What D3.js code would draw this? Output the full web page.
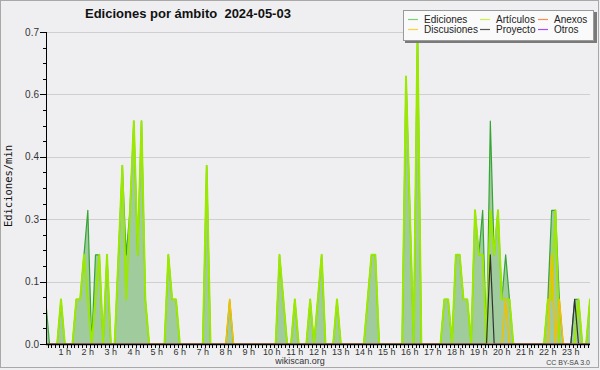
<!DOCTYPE html>
<html>
<head>
<meta charset="utf-8">
<script src="https://cdn.jsdelivr.net/npm/d3@7"></script>
<style>
  body { margin: 0; background: #efeff1; }
  svg { display: block; }
</style>
</head>
<body>
<svg id="chart"></svg>
<script>
// edits per minute, one value per 10 minute slot (6 slots per hour, 00:00 -> 23:50)
const ediciones = [
  0.1, 0, 0, 0, 0.1, 0,        // 0 h
  0, 0, 0.1, 0.1, 0.2, 0.3,    // 1 h
  0, 0.2, 0.2, 0, 0.2, 0,      // 2 h
  0, 0.2, 0.4, 0.2, 0.3, 0.5,  // 3 h
  0.2, 0.5, 0.1, 0, 0, 0,      // 4 h
  0, 0, 0.2, 0.1, 0.1, 0,      // 5 h
  0, 0, 0, 0, 0, 0,            // 6 h
  0.4, 0, 0, 0, 0, 0,          // 7 h
  0.1, 0, 0, 0, 0, 0,          // 8 h
  0, 0, 0, 0, 0, 0,            // 9 h
  0, 0.2, 0.1, 0, 0, 0.1,      // 10 h
  0, 0, 0, 0.1, 0, 0.1,        // 11 h
  0.2, 0, 0, 0, 0.1, 0,        // 12 h
  0, 0, 0, 0, 0, 0,            // 13 h
  0.1, 0.2, 0.2, 0, 0, 0,      // 14 h
  0, 0, 0, 0, 0.6, 0.3,        // 15 h
  0, 0.7, 0, 0, 0, 0,          // 16 h
  0, 0, 0.1, 0.1, 0, 0.2,      // 17 h
  0.2, 0.1, 0.1, 0, 0.3, 0.2,  // 18 h
  0.3, 0, 0.5, 0.2, 0.3, 0.1,  // 19 h
  0.2, 0.1, 0, 0, 0, 0,        // 20 h
  0, 0, 0, 0, 0, 0.1,          // 21 h
  0.3, 0.3, 0.1, 0, 0, 0,      // 22 h
  0.1, 0.1, 0, 0, 0.1, 0       // 23 h
];
const articulos = [
  0, 0, 0, 0, 0.1, 0,
  0, 0, 0.1, 0.1, 0.2, 0.1,
  0, 0.1, 0.2, 0, 0.2, 0,
  0, 0.2, 0.4, 0.1, 0.3, 0.5,
  0.2, 0.5, 0.1, 0, 0, 0,
  0, 0, 0.2, 0.1, 0.1, 0,
  0, 0, 0, 0, 0, 0,
  0.4, 0, 0, 0, 0, 0,
  0, 0, 0, 0, 0, 0,
  0, 0, 0, 0, 0, 0,
  0, 0.2, 0.1, 0, 0, 0.1,
  0, 0, 0, 0.1, 0, 0.1,
  0.2, 0, 0, 0, 0.1, 0,
  0, 0, 0, 0, 0, 0,
  0.1, 0.2, 0.2, 0, 0, 0,
  0, 0, 0, 0, 0.6, 0.3,
  0, 0.7, 0, 0, 0, 0,
  0, 0, 0.1, 0.1, 0, 0.2,
  0.2, 0.1, 0.1, 0, 0.3, 0.2,
  0.2, 0, 0.3, 0.2, 0.3, 0.1,
  0.1, 0.1, 0, 0, 0, 0,
  0, 0, 0, 0, 0, 0.1,
  0.1, 0.3, 0, 0, 0, 0,
  0, 0.1, 0, 0, 0.1, 0
];
const discusiones = [
  0,0,0,0,0,0, 0,0,0,0,0,0, 0,0,0,0,0,0, 0,0,0,0,0,0,
  0,0,0,0,0,0, 0,0,0,0,0,0, 0,0,0,0,0,0, 0,0,0,0,0,0,
  0.1,0,0,0,0,0, 0,0,0,0,0,0, 0,0,0,0,0,0, 0,0,0,0,0,0,
  0,0,0,0,0,0, 0,0,0,0,0,0, 0,0,0,0,0,0, 0,0,0,0,0,0,
  0,0,0,0,0,0, 0,0,0,0,0,0, 0,0,0,0,0,0, 0,0,0,0,0,0,
  0.1,0,0,0,0,0, 0,0,0,0,0,0, 0.2,0,0.1,0,0,0, 0,0,0,0,0,0
];
const proyecto = [
  0,0,0,0,0,0, 0,0,0,0,0,0, 0,0,0,0,0,0, 0,0,0,0,0,0,
  0,0,0,0,0,0, 0,0,0,0,0,0, 0,0,0,0,0,0, 0,0,0,0,0,0,
  0,0,0,0,0,0, 0,0,0,0,0,0, 0,0,0,0,0,0, 0,0,0,0,0,0,
  0,0,0,0,0,0, 0,0,0,0,0,0, 0,0,0,0,0,0, 0,0,0,0,0,0,
  0,0,0,0,0,0, 0,0,0,0,0,0, 0,0,0,0,0,0, 0,0,0.2,0,0,0,
  0,0,0,0,0,0, 0,0,0,0,0,0, 0,0,0,0,0,0, 0.1,0,0,0,0,0
];
const anexos = d3.range(144).map(() => 0);
const otros = d3.range(144).map(() => 0);

const title = "Ediciones por ámbito  2024-05-03";
const yTicks = [0, 0.14, 0.28, 0.42, 0.56, 0.7];
const hourLabels = d3.range(1, 24);

const series = [
  { name: "Ediciones", values: ediciones, color: "#35a534", lw: 1.2, legend: "#7ccf7c" },
  { name: "Artículos", values: articulos, color: "#9be800", lw: 2, legend: "#c8f04a" },
  { name: "Anexos", values: anexos, color: "#ff7a33", lw: 1.4, legend: "#ff8a50" },
  { name: "Discusiones", values: discusiones, color: "#f2c000", lw: 1.6, legend: "#ffd040" },
  { name: "Proyecto", values: proyecto, color: "#333333", lw: 1.2, legend: "#555555" },
  { name: "Otros", values: otros, color: "#9a3cff", lw: 1.2, legend: "#a050ff" }
];

const W = 600, H = 370;
const svg = d3.select("#chart").attr("width", W).attr("height", H)
  .style("font-family", "'Liberation Sans', Arial, sans-serif");

svg.append("rect").attr("x", 0.5).attr("y", 0.5).attr("width", W - 2).attr("height", H - 3)
  .attr("fill", "#efeff1").attr("stroke", "#a8a8a8");

const plot = { left: 46, right: 590, top: 32, bottom: 344 };

// bin centre in minutes -> px
const x = d3.scaleLinear().domain([0, 1440]).range([43.75, 595.75]);
const y = d3.scaleLinear().domain([0, 0.7]).range([plot.bottom, plot.top]);
const px = i => x(i * 10 + 5);

svg.append("defs").append("clipPath").attr("id", "clip")
  .append("rect").attr("x", plot.left).attr("y", plot.top - 6)
  .attr("width", plot.right - plot.left).attr("height", plot.bottom - plot.top + 5.4);

// grid
svg.append("g").selectAll("line").data(yTicks.slice(1)).join("line")
  .attr("x1", plot.left).attr("x2", plot.right)
  .attr("y1", d => Math.round(y(d)) + 0.5).attr("y2", d => Math.round(y(d)) + 0.5)
  .attr("stroke", "#cfcfcf");

const g = svg.append("g").attr("clip-path", "url(#clip)");

g.append("path").datum(ediciones)
  .attr("fill", "#9fcb9d")
  .attr("d", d3.area().x((d, i) => px(i)).y0(y(0)).y1(d => y(d)));

series.forEach(s => {
  g.append("path").datum(s.values)
    .attr("fill", "none")
    .attr("stroke", s.color)
    .attr("stroke-width", s.lw)
    .attr("stroke-linejoin", "round")
    .attr("d", d3.line().x((d, i) => px(i)).y(d => y(d)));
});

// y axis
const yAxis = svg.append("g");
yAxis.append("line").attr("x1", plot.left + 0.5).attr("x2", plot.left + 0.5)
  .attr("y1", plot.top).attr("y2", plot.bottom + 1).attr("stroke", "#000");
yAxis.selectAll(".minor").data(d3.range(0, 0.7001, 0.035)).join("line")
  .attr("x1", plot.left - 3).attr("x2", plot.left)
  .attr("y1", d => Math.round(y(d)) + 0.5).attr("y2", d => Math.round(y(d)) + 0.5)
  .attr("stroke", "#000");
yAxis.selectAll(".major").data(yTicks).join("line")
  .attr("x1", plot.left - 6).attr("x2", plot.left)
  .attr("y1", d => Math.round(y(d)) + 0.5).attr("y2", d => Math.round(y(d)) + 0.5)
  .attr("stroke", "#000");
yAxis.selectAll("text").data(yTicks).join("text")
  .attr("x", plot.left - 7).attr("y", d => y(d) + 3.5)
  .attr("text-anchor", "end").attr("font-size", 10).attr("fill", "#333")
  .text(d => d3.format(".1f")(d));

svg.append("text")
  .attr("transform", "translate(12," + 186 + ") rotate(-90)")
  .attr("text-anchor", "middle")
  .attr("font-family", "'DejaVu Sans Mono', monospace")
  .attr("font-size", 10.5).attr("fill", "#111")
  .text("Ediciones/min");

// x axis
const xAxis = svg.append("g");
xAxis.append("line").attr("x1", plot.left).attr("x2", plot.right)
  .attr("y1", plot.bottom + 0.5).attr("y2", plot.bottom + 0.5)
  .attr("stroke", "#000").attr("stroke-width", 1.5);
xAxis.selectAll(".tick").data(d3.range(0, 1441, 10).filter(m => x(m) > plot.left && x(m) <= plot.right)).join("line")
  .attr("x1", d => Math.round(x(d)) + 0.5).attr("x2", d => Math.round(x(d)) + 0.5)
  .attr("y1", plot.bottom).attr("y2", plot.bottom + 4)
  .attr("stroke", "#000");
xAxis.selectAll("text").data(hourLabels).join("text")
  .attr("x", d => x(d * 60) - 2).attr("y", plot.bottom + 10.5)
  .attr("text-anchor", "middle").attr("font-size", 9).attr("fill", "#333")
  .text(d => d + " h");

// title
svg.append("text").attr("x", 85).attr("y", 18)
  .attr("font-size", 13).attr("font-weight", "bold").attr("fill", "#111")
  .attr("xml:space", "preserve").style("white-space", "pre")
  .text(title);

// footer
svg.append("text").attr("x", 300).attr("y", 364).attr("text-anchor", "middle")
  .attr("font-size", 9).attr("fill", "#333").text("wikiscan.org");
svg.append("text").attr("x", 590).attr("y", 365).attr("text-anchor", "end")
  .attr("font-size", 7).attr("fill", "#444").text("CC BY-SA 3.0");

// legend
const lg = svg.append("g");
lg.append("rect").attr("x", 405).attr("y", 12).attr("width", 192).attr("height", 31).attr("fill", "#7a7a7a");
lg.append("rect").attr("x", 403.5).attr("y", 10.5).attr("width", 190).attr("height", 30)
  .attr("fill", "#fafafa").attr("stroke", "#9a9a9a");
const legendOrder = ["Ediciones", "Artículos", "Anexos", "Discusiones", "Proyecto", "Otros"];
const colX = [408, 480, 538];
legendOrder.forEach((name, i) => {
  const s = series.find(d => d.name === name);
  const cx = colX[i % 3], cy = i < 3 ? 19.5 : 29.5;
  lg.append("line").attr("x1", cx).attr("x2", cx + 10).attr("y1", cy).attr("y2", cy)
    .attr("stroke", s.legend).attr("stroke-width", 1.2);
  lg.append("text").attr("x", cx + 16).attr("y", cy + 3.5)
    .attr("font-size", 10).attr("fill", "#222").text(name);
});
</script>
</body>
</html>
